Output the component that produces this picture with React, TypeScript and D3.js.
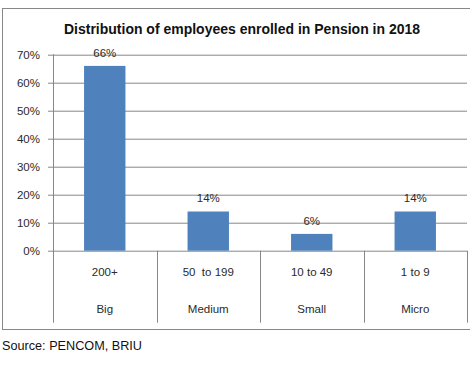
import React from "react";
import * as d3 from "d3";

// chart data
const sizeRanges = ["200+", "50  to 199", "10 to 49", "1 to 9"];
const sizeNames = ["Big", "Medium", "Small", "Micro"];
const shares = [66, 14, 6, 14];
const yTicks = [0, 10, 20, 30, 40, 50, 60, 70];

const W = 470;
const H = 370;
const margin = { top: 54.7, right: 3, bottom: 119.3, left: 53 };
const FONT = "'Liberation Sans', Arial, sans-serif";
const BAR = "#4F81BD";
const GRID = "#878787";
const TEXT = "#2a2a2a";

const App = () => {
  const innerW = W - margin.left - margin.right;
  const innerH = H - margin.top - margin.bottom;

  const x = d3.scaleBand().domain(sizeRanges).range([0, innerW]).paddingInner(0.6).paddingOuter(0.3);
  const y = d3.scaleLinear().domain([0, 70]).range([innerH, 0]);
  const step = x.step();

  return (
    <svg
      width={W}
      height={H}
      style={{ position: "absolute", left: 0, top: 0, background: "#fff" }}
      fontFamily={FONT}
    >
      {/* chart frame */}
      <rect x={2.5} y={8.5} width={470} height={321} fill="#fff" stroke={GRID} strokeWidth={1} />

      <text
        x={242}
        y={34.3}
        textAnchor="middle"
        fontSize={14}
        fontWeight="bold"
        fill="#111"
        textLength={356}
        lengthAdjust="spacingAndGlyphs"
      >
        Distribution of employees enrolled in Pension in 2018
      </text>

      <g transform={`translate(${margin.left},${margin.top})`}>
        {/* gridlines + y labels */}
        {yTicks.map((t) => (
          <g key={t}>
            <line x1={-5} x2={innerW} y1={Math.round(y(t)) + 0.5} y2={Math.round(y(t)) + 0.5} stroke={GRID} />
            <text x={-13} y={y(t)} dy="0.35em" textAnchor="end" fontSize={11.5} fill={TEXT}>
              {t}%
            </text>
          </g>
        ))}

        {/* bars */}
        {sizeRanges.map((c, i) => (
          <g key={c}>
            <rect x={x(c)} y={y(shares[i])} width={x.bandwidth()} height={innerH - y(shares[i])} fill={BAR} />
            <text
              x={x(c)! + x.bandwidth() / 2}
              y={y(shares[i]) - 9}
              textAnchor="middle"
              fontSize={11.5}
              fill={TEXT}
            >
              {shares[i]}%
            </text>
          </g>
        ))}

        {/* category axis, two levels */}
        {d3.range(sizeRanges.length + 1).map((i) => (
          <line
            key={i}
            x1={Math.round(i * step) + 0.5}
            x2={Math.round(i * step) + 0.5}
            y1={i === 0 ? -0.5 : innerH}
            y2={innerH + 72}
            stroke={GRID}
          />
        ))}
        {sizeRanges.map((c, i) => (
          <g key={c} fontSize={11.5} fill={TEXT} textAnchor="middle">
            <text x={(i + 0.5) * step} y={innerH + 21} dy="0.35em" style={{ whiteSpace: "pre" }}>
              {c}
            </text>
            <text x={(i + 0.5) * step} y={innerH + 58} dy="0.35em">
              {sizeNames[i]}
            </text>
          </g>
        ))}
      </g>

      <text x={2} y={350} fontSize={12.5} fill="#111" textLength={140} lengthAdjust="spacingAndGlyphs">
        Source: PENCOM, BRIU
      </text>
    </svg>
  );
};

export default App;
